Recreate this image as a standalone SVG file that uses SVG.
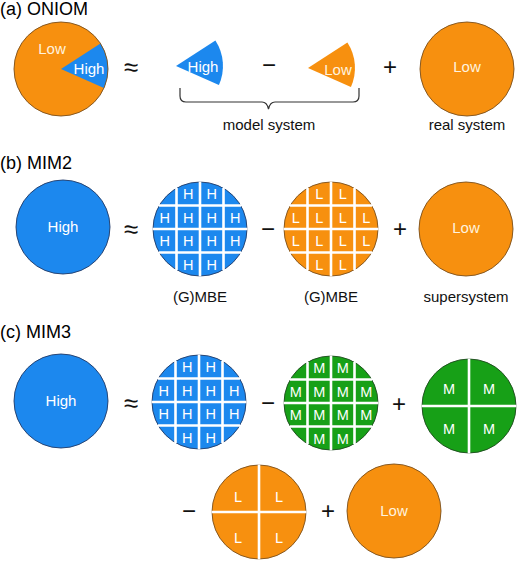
<svg xmlns="http://www.w3.org/2000/svg" xmlns:xlink="http://www.w3.org/1999/xlink" width="520" height="565" viewBox="0 0 520 565">
<style>
  text { font-family: "Liberation Sans", Arial, sans-serif; }
  .title { font-size: 18px; fill: #000; }
  .lab { font-size: 15px; fill: #111; text-anchor: middle; }
  .in { font-size: 15px; fill: #fff; text-anchor: middle; }
  .inO { font-size: 15px; fill: #fff3df; text-anchor: middle; }
  .cell { font-size: 14.5px; fill: #fff; text-anchor: middle; }
  .op { font-size: 24px; fill: #111; text-anchor: middle; }
  .approx { font-size: 26px; fill: #111; text-anchor: middle; }
  .orange { fill: #F7900F; stroke: #7a4f1c; stroke-width: 0.9; }
  .blue { fill: #1C88EE; stroke: #213a66; stroke-width: 0.9; }
  .green { fill: #17A017; stroke: #1d4a1d; stroke-width: 0.9; }
  .gl { stroke: #fff; stroke-width: 2.6; fill: none; }
  .brace { fill: none; stroke: #333; stroke-width: 1.2; }
</style>
<defs>
  <g id="grid">
    <line class="gl" x1="-47.5" y1="0" x2="47.5" y2="0"/>
    <line class="gl" x1="0" y1="-47.5" x2="0" y2="47.5"/>
    <line class="gl" x1="-41" y1="-23.5" x2="41" y2="-23.5"/>
    <line class="gl" x1="-41" y1="23.5" x2="41" y2="23.5"/>
    <line class="gl" x1="-23.5" y1="-41" x2="-23.5" y2="41"/>
    <line class="gl" x1="23.5" y1="-41" x2="23.5" y2="41"/>
  </g>
  <g id="quad">
    <line class="gl" x1="-47.5" y1="0" x2="47.5" y2="0"/>
    <line class="gl" x1="0" y1="-47.5" x2="0" y2="47.5"/>
  </g>
  <path id="wedge" d="M0,0 L39.4,-25.6 A47,47 0 0 1 42.9,19.1 Z"/>
</defs>

<!-- (a) ONIOM -->
<text class="title" x="0" y="15">(a) ONIOM</text>
<g id="a_pie">
  <circle cx="61" cy="69" r="47" fill="#F7900F"/>
  <use xlink:href="#wedge" href="#wedge" x="61" y="69" fill="#1C88EE"/>
  <circle cx="61" cy="69" r="47" fill="none" stroke="#7a4f1c" stroke-width="0.9"/>
  <text class="inO" x="52" y="54">Low</text>
  <text class="in" x="89" y="74">High</text>
</g>
<text class="approx" x="131" y="76">≈</text>
<g id="a_model_high">
  <use xlink:href="#wedge" href="#wedge" x="176" y="66" fill="#1C88EE"/>
  <text class="in" x="203" y="72">High</text>
</g>
<text class="op" x="269" y="73">−</text>
<g id="a_model_low">
  <use xlink:href="#wedge" href="#wedge" x="308" y="68" fill="#F7900F"/>
  <text class="inO" x="338" y="75">Low</text>
</g>
<text class="op" x="390" y="75">+</text>
<g id="a_real">
  <circle class="orange" cx="467" cy="69" r="47"/>
  <text class="inO" x="467" y="72">Low</text>
</g>
<g id="connectors">
  <path class="brace" d="M180,88 L180,96 Q180,102 186,102 L262,102 Q267,102 268.5,109 Q270,102 275,102 L353,102 Q359,102 359,96 L359,88"/>
</g>
<text class="lab" x="269" y="130">model system</text>
<text class="lab" x="467" y="130">real system</text>

<!-- (b) MIM2 -->
<text class="title" x="0" y="169">(b) MIM2</text>
<g id="b_high">
  <circle class="blue" cx="63" cy="227" r="47"/>
  <text class="in" x="63" y="232">High</text>
</g>
<text class="approx" x="131" y="238">≈</text>
<g id="b_gmbe_high" transform="translate(200,229)">
  <circle class="blue" r="47"/>
  <use xlink:href="#grid" href="#grid"/>
  <g class="cell">
    <text x="-11.75" y="-30">H</text><text x="11.75" y="-30">H</text>
    <text x="-35.25" y="-6.5">H</text><text x="-11.75" y="-6.5">H</text><text x="11.75" y="-6.5">H</text><text x="35.25" y="-6.5">H</text>
    <text x="-35.25" y="17">H</text><text x="-11.75" y="17">H</text><text x="11.75" y="17">H</text><text x="35.25" y="17">H</text>
    <text x="-11.75" y="40.5">H</text><text x="11.75" y="40.5">H</text>
  </g>
</g>
<text class="op" x="268" y="237">−</text>
<g id="b_gmbe_low" transform="translate(331,229)">
  <circle class="orange" r="47"/>
  <use xlink:href="#grid" href="#grid"/>
  <g class="cell">
    <text x="-11.75" y="-30">L</text><text x="11.75" y="-30">L</text>
    <text x="-35.25" y="-6.5">L</text><text x="-11.75" y="-6.5">L</text><text x="11.75" y="-6.5">L</text><text x="35.25" y="-6.5">L</text>
    <text x="-35.25" y="17">L</text><text x="-11.75" y="17">L</text><text x="11.75" y="17">L</text><text x="35.25" y="17">L</text>
    <text x="-11.75" y="40.5">L</text><text x="11.75" y="40.5">L</text>
  </g>
</g>
<text class="op" x="400" y="237">+</text>
<g id="b_super">
  <circle class="orange" cx="466" cy="229" r="47"/>
  <text class="inO" x="466" y="233">Low</text>
</g>
<text class="lab" x="200" y="302">(G)MBE</text>
<text class="lab" x="331" y="302">(G)MBE</text>
<text class="lab" x="466" y="302">supersystem</text>

<!-- (c) MIM3 -->
<text class="title" x="0" y="338">(c) MIM3</text>
<g id="c_high">
  <circle class="blue" cx="61" cy="401" r="47"/>
  <text class="in" x="61" y="406">High</text>
</g>
<text class="approx" x="131" y="412">≈</text>
<g id="c_gmbe_high" transform="translate(199,402)">
  <circle class="blue" r="47"/>
  <use xlink:href="#grid" href="#grid"/>
  <g class="cell">
    <text x="-11.75" y="-30">H</text><text x="11.75" y="-30">H</text>
    <text x="-35.25" y="-6.5">H</text><text x="-11.75" y="-6.5">H</text><text x="11.75" y="-6.5">H</text><text x="35.25" y="-6.5">H</text>
    <text x="-35.25" y="17">H</text><text x="-11.75" y="17">H</text><text x="11.75" y="17">H</text><text x="35.25" y="17">H</text>
    <text x="-11.75" y="40.5">H</text><text x="11.75" y="40.5">H</text>
  </g>
</g>
<text class="op" x="268" y="411">−</text>
<g id="c_gmbe_mid" transform="translate(331,403)">
  <circle class="green" r="47"/>
  <use xlink:href="#grid" href="#grid"/>
  <g class="cell">
    <text x="-11.75" y="-30">M</text><text x="11.75" y="-30">M</text>
    <text x="-35.25" y="-6.5">M</text><text x="-11.75" y="-6.5">M</text><text x="11.75" y="-6.5">M</text><text x="35.25" y="-6.5">M</text>
    <text x="-35.25" y="17">M</text><text x="-11.75" y="17">M</text><text x="11.75" y="17">M</text><text x="35.25" y="17">M</text>
    <text x="-11.75" y="40.5">M</text><text x="11.75" y="40.5">M</text>
  </g>
</g>
<text class="op" x="399" y="412">+</text>
<g id="c_quad_mid" transform="translate(469,406)">
  <circle class="green" r="47"/>
  <use xlink:href="#quad" href="#quad"/>
  <g class="cell">
    <text x="-20" y="-12.5">M</text><text x="20" y="-12.5">M</text>
    <text x="-20" y="27.5">M</text><text x="20" y="27.5">M</text>
  </g>
</g>
<text class="op" x="189" y="519">−</text>
<g id="c_quad_low" transform="translate(259,512)">
  <circle class="orange" r="47"/>
  <use xlink:href="#quad" href="#quad"/>
  <g class="cell">
    <text x="-21" y="-10.5">L</text><text x="20" y="-10.5">L</text>
    <text x="-21" y="30.5">L</text><text x="20" y="30.5">L</text>
  </g>
</g>
<text class="op" x="328" y="519">+</text>
<g id="c_low">
  <circle class="orange" cx="394" cy="511" r="47"/>
  <text class="inO" x="394" y="516">Low</text>
</g>
</svg>
